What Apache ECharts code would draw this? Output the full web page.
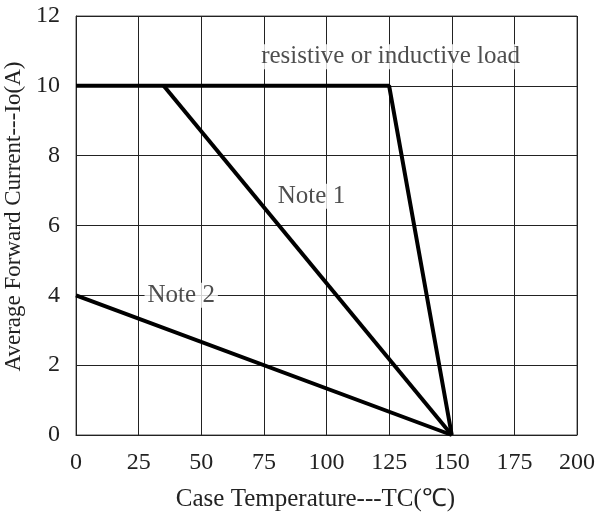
<!DOCTYPE html>
<html><head><meta charset="utf-8">
<script src="https://cdn.jsdelivr.net/npm/echarts@6/dist/echarts.min.js"></script>
<style>html,body{margin:0;padding:0;background:#fff}#c{width:599px;height:528px}</style>
</head><body><div id="c"></div>
<script>
const xTicks = [0,25,50,75,100,125,150,175,200];
const yTicks = [0,2,4,6,8,10,12];
const resistiveLoad = [[0,10],[125,10],[150,0]];
const note1 = [[35,10],[150,0]];
const note2 = [[0,4],[150,0]];
const labels = [
  {name:'resistive or inductive load', value:[125.6,10.83]},
  {name:'Note 1', value:[94,6.84]},
  {name:'Note 2', value:[42,4.0]}
];
const font = 'Liberation Serif';
const chart = echarts.init(document.getElementById('c'), null, {renderer:'canvas'});
const lineStyle = {color:'#000', width:4};
chart.setOption({
  animation:false,
  grid:{left:76, right:22, top:16, bottom:93, show:true, borderColor:'#555', borderWidth:1, outerBoundsMode:'none', containLabel:false},
  xAxis:{type:'value', min:0, max:200, interval:25,
    name:'Case Temperature---TC(℃)', nameLocation:'middle', nameGap:52,
    nameTextStyle:{fontFamily:font, fontSize:25, color:'#222', padding:[0,22,0,0]},
    axisLine:{show:true, lineStyle:{color:'#222'}}, axisTick:{show:false},
    axisLabel:{fontFamily:font, fontSize:24, color:'#222', margin:16},
    splitLine:{show:true, lineStyle:{color:'#222', width:1}}},
  yAxis:{type:'value', min:0, max:12, interval:2,
    name:'Average Forward Current---Io(A)', nameLocation:'middle', nameGap:46,
    nameTextStyle:{fontFamily:font, fontSize:23, color:'#222', padding:[0,0,0,18]},
    axisLine:{show:true, lineStyle:{color:'#222'}}, axisTick:{show:false},
    axisLabel:{fontFamily:font, fontSize:24, color:'#222', margin:16},
    splitLine:{show:true, lineStyle:{color:'#222', width:1}}},
  series:[
    {type:'line', data:resistiveLoad, symbol:'none', lineStyle:lineStyle, z:3},
    {type:'line', data:note1, symbol:'none', lineStyle:lineStyle, z:3},
    {type:'line', data:note2, symbol:'none', lineStyle:lineStyle, z:3},
    {type:'scatter', data:labels, symbolSize:1, itemStyle:{color:'rgba(0,0,0,0)'}, z:5,
      label:{show:true, position:'inside', formatter:p=>p.name, fontFamily:font, fontSize:25, color:'#222',
        backgroundColor:'#fff', padding:[0,3]}}
  ]
});
</script></body></html>
